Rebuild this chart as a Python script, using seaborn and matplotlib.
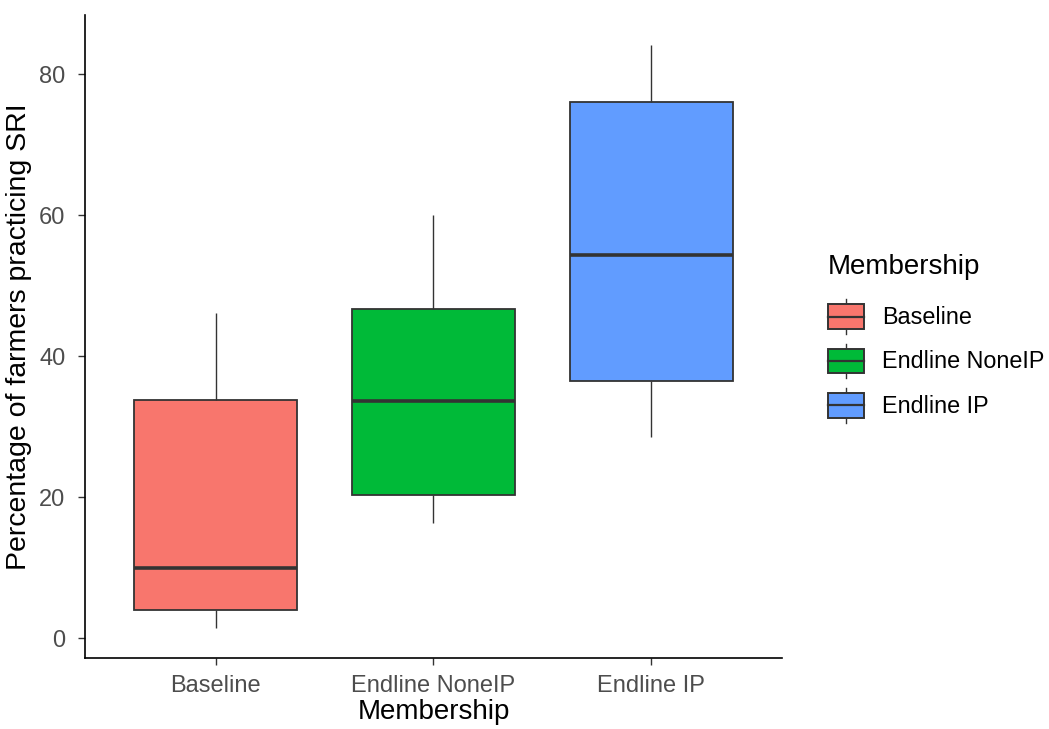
import pandas as pd
import matplotlib
matplotlib.use("Agg")
import matplotlib.pyplot as plt
import seaborn as sns
from matplotlib.patches import Rectangle
from matplotlib.lines import Line2D
from matplotlib.legend_handler import HandlerBase

# Five-number summaries (min, Q1, median, Q3, max)
groups = ["Baseline", "Endline NoneIP", "Endline IP"]
baseline_vals = [1.4, 4.0, 9.9, 33.8, 46.1]
noneip_vals = [16.3, 20.3, 33.6, 46.7, 60.1]
ip_vals = [28.5, 36.5, 54.3, 76.0, 84.1]
colors = ["#F8766D", "#00BA38", "#619CFF"]
y_ticks = [0, 20, 40, 60, 80]

df = pd.DataFrame({
    "Membership": [g for g, v in zip(groups, [baseline_vals, noneip_vals, ip_vals]) for _ in v],
    "value": baseline_vals + noneip_vals + ip_vals,
})
df["Membership"] = pd.Categorical(df["Membership"], categories=groups, ordered=True)


class BoxKey(HandlerBase):
    # ggplot-like legend key: small box with median line and whiskers
    def create_artists(self, legend, orig_handle, xdescent, ydescent,
                       width, height, fontsize, trans):
        x0, y0 = -xdescent, -ydescent
        bh = 0.71 * height
        by = y0 + (height - bh) / 2
        xm = x0 + width / 2
        ec = "#333333"
        box = Rectangle((x0, by), width, bh, facecolor=orig_handle.get_facecolor(),
                        edgecolor=ec, linewidth=1.4, transform=trans)
        med = Line2D([x0, x0 + width], [by + bh / 2] * 2, color=ec, lw=1.6, transform=trans)
        lo = Line2D([xm, xm], [y0, by], color=ec, lw=1.0, transform=trans)
        hi = Line2D([xm, xm], [by + bh, y0 + height], color=ec, lw=1.0, transform=trans)
        return [lo, hi, box, med]


def make_plot():
    plt.rcParams["font.family"] = ["Liberation Sans", "DejaVu Sans"]
    fig = plt.figure(figsize=(10.49, 7.29), dpi=100)
    ax = fig.add_axes([0.081, 0.0974, 0.6645, 0.882])

    sns.boxplot(data=df, x="Membership", y="value", hue="Membership",
                palette=colors, saturation=1, width=0.75, linecolor="#333333",
                linewidth=1.3, showcaps=False, whis=1.5, legend=False, ax=ax,
                medianprops={"linewidth": 2.6, "color": "#333333"},
                whiskerprops={"linewidth": 1.0})

    ax.set_xlim(-0.6, 2.6)
    ax.set_ylim(-2.8, 88.4)
    ax.set_yticks(y_ticks)
    ax.set_facecolor("white")
    for s in ["top", "right"]:
        ax.spines[s].set_visible(False)
    for s in ["left", "bottom"]:
        ax.spines[s].set_color("black")
        ax.spines[s].set_linewidth(1.2)
    ax.tick_params(axis="both", colors="#333333", length=5, width=1.0,
                   labelsize=17, labelcolor="#4D4D4D")
    ax.tick_params(axis="x", pad=7)
    ax.tick_params(axis="y", pad=9)
    ax.set_xlabel("Membership", fontsize=20, color="black", labelpad=2)
    ax.set_ylabel("Percentage of farmers practicing SRI", fontsize=20.5,
                  color="black", labelpad=5)

    handles = [Rectangle((0, 0), 1, 1, facecolor=c) for c in colors]
    leg = fig.legend(handles, groups, title="Membership", loc="center left",
                     bbox_to_anchor=(0.7695, 0.536), frameon=False, fontsize=16.8,
                     title_fontsize=20, handler_map={Rectangle: BoxKey()},
                     handlelength=1.55, handleheight=1.9, labelspacing=0.42,
                     handletextpad=0.75, alignment="left")
    leg._legend_box.sep = 14

    fig.savefig("out.png", dpi=100, facecolor="white")
    plt.close(fig)


if __name__ == "__main__":
    make_plot()
